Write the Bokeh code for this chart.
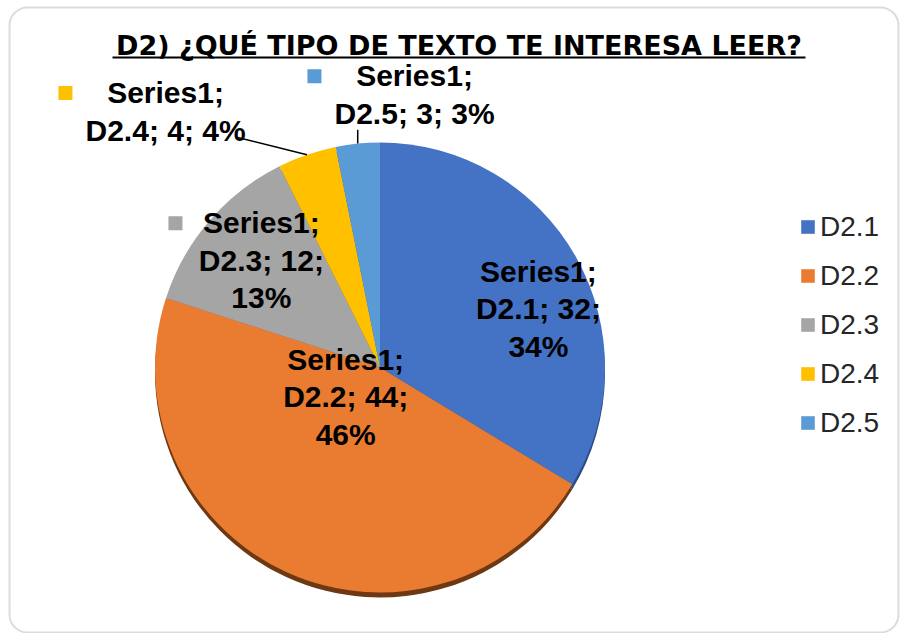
import math
import numpy as np
from bokeh.plotting import figure
from bokeh.models import ColumnDataSource, Range1d, BoxAnnotation
from bokeh.core.properties import value
from bokeh.embed import file_html
from bokeh.resources import INLINE

# ---------------- data ----------------
categories = ["D2.1", "D2.2", "D2.3", "D2.4", "D2.5"]
values = [32, 44, 12, 4, 3]
series_name = "Series1"
title_text = "D2) ¿QUÉ TIPO DE TEXTO TE INTERESA LEER?"

# ---------------- style ----------------
colors = ["#4472C4", "#E97C30", "#A5A5A5", "#FFC000", "#5B9BD5"]
shadow_colors = ["#2c4c86", "#6e3812", "#6a6a6a", "#9a7400", "#3a6892"]
label_r = [169, 45, 160, 334, 275]          # distance of label block from centre
label_shift_deg = [9, 25, 1.4, -21, 12.9]   # angular nudge of label block
outside = [False, False, False, True, True]

W, H = 900, 633
CX, CY, R = 379.5, 266, 225
LINE = 37
TITLE_W = 693

p = figure(width=W, height=H, x_range=Range1d(0, W), y_range=Range1d(0, H),
           x_axis_type=None, y_axis_type=None, output_backend="svg",
           toolbar_location=None, min_border=0)
p.grid.visible = False
p.outline_line_color = None
p.background_fill_color = "white"
p.border_fill_color = "white"

total = float(sum(values))
cum = np.cumsum([0] + values)
start = [math.pi / 2 - 2 * math.pi * c / total for c in cum[:-1]]
end = [math.pi / 2 - 2 * math.pi * c / total for c in cum[1:]]
mid_deg = [((a + b) / 2) / total * 360 for a, b in zip(cum[:-1], cum[1:])]
pct = [f"{round(v * 100 / total)}%" for v in values]

src = ColumnDataSource(dict(cat=categories, val=values, start=start, end=end,
                            color=colors, shadow=shadow_colors))

# shadow under pie
p.wedge(x=CX, y=CY - 5, radius=R, start_angle="start", end_angle="end",
        direction="clock", fill_color="shadow", line_color=None, source=src)
# pie
p.wedge(x=CX, y=CY, radius=R, start_angle="start", end_angle="end",
        direction="clock", fill_color="color", line_color=None, source=src,
        legend_field="cat")

# data labels
lx, ly, texts, sqx, sqy = [], [], [], [], []
lead_x0, lead_y0, lead_x1, lead_y1 = [], [], [], []
for i, cat in enumerate(categories):
    if outside[i]:
        lines = [f"{series_name};", f"{cat}; {values[i]}; {pct[i]}"]
    else:
        lines = [f"{series_name};", f"{cat}; {values[i]};", pct[i]]
    a = math.radians(mid_deg[i] + label_shift_deg[i])
    x = CX + label_r[i] * math.sin(a)
    y = CY + label_r[i] * math.cos(a)
    lx.append(x)
    ly.append(y)
    texts.append("\n".join(lines))
    half_w = 14.2 * max(len(s) for s in lines) / 2
    sqx.append(x - half_w - 22)
    sqy.append(y + (len(lines) - 1) / 2 * LINE)
    if outside[i]:
        am = math.radians(mid_deg[i])
        ex = CX + R * math.sin(am)
        ey = CY + R * math.cos(am)
        if x - half_w <= ex <= x + half_w:
            tx, ty = ex, y - 35
        else:
            tx, ty = min(max(ex, x - half_w), x + half_w - 6), y - 26
        lead_x0.append(ex); lead_y0.append(ey)
        lead_x1.append(tx); lead_y1.append(ty)

p.segment(x0=lead_x0, y0=lead_y0, x1=lead_x1, y1=lead_y1,
          line_color="black", line_width=1.5)
p.scatter(x=sqx, y=sqy, marker="square", size=14, fill_color=colors,
          line_color=None)
p.text(x=lx, y=ly, text=texts, text_font=value("Liberation Sans"),
       text_font_style="bold", text_font_size="30px", text_align="center",
       text_baseline="middle", text_line_height=1.14, text_color="black")

# title with underline
tx_c = 458.5
p.text(x=[tx_c], y=[H - 44.5], text=[title_text], text_align="center",
       text_baseline="middle", text_font=value("DejaVu Sans"),
       text_font_style="bold", text_font_size="27px", text_color="black")
p.segment(x0=[tx_c - TITLE_W / 2], y0=[H - 57], x1=[tx_c + TITLE_W / 2],
          y1=[H - 57], line_color="black", line_width=2.2)

# legend
lg = p.legend[0]
lg.location = (799, 193)
lg.label_text_font = "Liberation Sans"
lg.label_text_font_size = "28px"
lg.label_text_color = "#262626"
lg.glyph_width = 17
lg.glyph_height = 17
lg.label_height = 35
lg.spacing = 14
lg.label_standoff = 4
lg.padding = 0
lg.margin = 0
lg.border_line_color = None
lg.background_fill_alpha = 0

# rounded chart border
p.add_layout(BoxAnnotation(left=9, right=898, bottom=1, top=H - 7,
                           fill_color=None, line_color="#8c8c8c",
                           line_width=2, border_radius=18))

open("out.html", "w").write(file_html(p, INLINE))
